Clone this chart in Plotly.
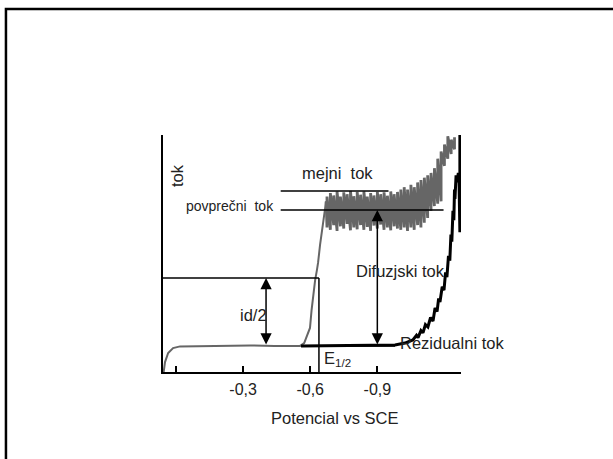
import plotly.graph_objects as go

# ---------------- data ----------------
# polarographic wave (foot + rise), potential in V vs SCE, current in arbitrary units
wave_potential = [0.055, 0.049, 0.035, 0.013, -0.018, -0.108, -0.220, -0.331, -0.440, -0.555,
                  -0.573, -0.586, -0.599, -0.606, -0.613, -0.622, -0.630, -0.635, -0.644,
                  -0.653, -0.662, -0.671]
wave_current = [0.0, 0.42, 0.80, 1.01, 1.08, 1.10, 1.10, 1.12, 1.10, 1.10,
                1.22, 1.52, 1.86, 2.60, 3.25, 3.88, 4.30, 4.60, 5.36,
                5.99, 6.75, 7.20]

# dropping-mercury oscillations on the limiting-current plateau
drop_potential = [-0.675, -0.690, -0.705, -0.720, -0.735, -0.750, -0.765, -0.780, -0.795, -0.810,
                  -0.825, -0.840, -0.855, -0.870, -0.885, -0.900, -0.915, -0.930, -0.945, -0.960,
                  -0.975, -0.990, -1.005, -1.020, -1.035, -1.050, -1.065, -1.080, -1.095, -1.110,
                  -1.125, -1.140, -1.155, -1.170, -1.185, -1.200, -1.215, -1.230, -1.245]
drop_max = [7.40, 7.55, 7.45, 7.62, 7.40, 7.58, 7.50, 7.64, 7.42, 7.60,
            7.48, 7.62, 7.40, 7.55, 7.45, 7.60, 7.50, 7.58, 7.44, 7.62,
            7.50, 7.60, 7.70, 7.80, 7.70, 7.90, 7.80, 8.00, 8.10, 8.20,
            8.30, 8.40, 8.60, 9.00, 9.30, 9.60, 9.95, 9.80, 9.90]
drop_min = [6.10, 6.00, 6.20, 5.95, 6.15, 6.05, 6.25, 5.98, 6.10, 6.02,
            6.20, 6.00, 6.12, 5.96, 6.18, 6.05, 6.22, 6.00, 6.10, 5.98,
            6.15, 6.05, 6.00, 6.10, 5.95, 6.10, 6.00, 6.20, 6.10, 6.30,
            6.50, 6.80, 7.00, 7.10, 7.20, 8.70, 9.00, 9.20, 9.40]

# residual current (supporting electrolyte only)
resid_potential = [-0.559, -0.733, -0.876, -0.979, -1.023, -1.059, -1.075, -1.082, -1.095, -1.104,
                   -1.115, -1.126, -1.138, -1.149, -1.158, -1.167, -1.174, -1.180, -1.190, -1.198,
                   -1.205, -1.211, -1.218, -1.224, -1.229, -1.233, -1.238, -1.242, -1.245, -1.247,
                   -1.252, -1.256, -1.262, -1.265, -1.269, -1.269]
resid_current = [1.10, 1.12, 1.16, 1.14, 1.22, 1.35, 1.55, 1.45, 1.75, 1.65,
                 2.00, 1.90, 2.30, 2.15, 2.70, 2.55, 3.10, 2.95, 3.60, 3.45,
                 4.20, 4.00, 4.90, 4.70, 5.80, 5.50, 6.80, 6.40, 7.70, 7.30,
                 8.30, 8.00, 8.40, 8.20, 5.90, 10.00]

# characteristic levels
residual_level = 1.10
mean_level = 6.84        # povprečni tok
limit_level = 7.64       # mejni tok
E_half = -0.639
half_level = (mean_level + residual_level) / 2

tick_vals = [0.0, -0.3, -0.6, -0.9]
tick_text = ["", "-0,3", "-0,6", "-0,9"]

# ---------------- figure ----------------
FONT = "Liberation Sans, Arial, sans-serif"
TXT = "#222222"
GRAY = "#666666"

# build the sawtooth from the listed drop extrema
saw_x, saw_y = [], []
for p, lo, hi in zip(drop_potential, drop_min, drop_max):
    saw_x += [p, p]
    saw_y += [lo, hi]

fig = go.Figure()
fig.add_trace(go.Scatter(x=wave_potential, y=wave_current, mode="lines",
                         line=dict(color=GRAY, width=2), hoverinfo="skip"))
fig.add_trace(go.Scatter(x=wave_potential[-1:] + saw_x, y=wave_current[-1:] + saw_y, mode="lines",
                         line=dict(color=GRAY, width=2.8), hoverinfo="skip"))
fig.add_trace(go.Scatter(x=resid_potential, y=resid_current, mode="lines",
                         line=dict(color="black", width=3), hoverinfo="skip"))

line_style = dict(color="black", width=1.5)
shapes = [
    # half-wave construction
    dict(type="line", xref="x", yref="y", x0=0.058, x1=E_half, y0=half_level, y1=half_level, line=line_style),
    dict(type="line", xref="x", yref="y", x0=E_half, x1=E_half, y0=0, y1=half_level, line=line_style),
    # limiting and mean current
    dict(type="line", xref="x", yref="y", x0=-0.468, x1=-0.950, y0=limit_level, y1=limit_level, line=line_style),
    dict(type="line", xref="x", yref="y", x0=-0.468, x1=-1.196, y0=mean_level, y1=mean_level, line=line_style),
    # residual baseline
    dict(type="line", xref="x", yref="y", x0=-0.559, x1=-0.979, y0=residual_level, y1=residual_level,
         line=dict(color="black", width=1.5)),
    # outer frame
    dict(type="rect", xref="paper", yref="paper", x0=-0.527, x1=1.7, y0=-0.6, y1=1.532,
         line=dict(color="black", width=2.5), layer="above"),
]

def double_arrow(x, y_top, y_bot):
    return [
        dict(x=x, y=y_top, ax=x, ay=y_bot, xref="x", yref="y", axref="x", ayref="y",
             showarrow=True, arrowhead=2, arrowsize=1.5, arrowwidth=1.5, arrowcolor="black",
             arrowside="end+start", text=""),
    ]

annotations = []
annotations += double_arrow(-0.4026, half_level, residual_level)
annotations += double_arrow(-0.900, mean_level, residual_level)

def label(text, x, y, size=16.5, xanchor="center", **kw):
    return dict(text=text, x=x, y=y, xref="x", yref="y", showarrow=False,
                xanchor=xanchor, yanchor="middle",
                font=dict(family=FONT, size=size, color=TXT), **kw)

annotations += [
    label("tok", -0.005, 8.27, textangle=-90),
    label("mejni  tok", -0.720, 8.40),
    label("povprečni  tok", -0.242, 7.0, size=14),
    label("id/2", -0.345, 2.40),
    label("Difuzjski tok", -1.005, 4.26),
    label("Rezidualni tok", -0.992, 1.22, xanchor="left"),
    label("E<sub>1/2</sub>", -0.652, 0.55, xanchor="left"),
    dict(text="Potencial vs SCE", x=0.574, y=-0.194, xref="paper", yref="paper", showarrow=False,
         xanchor="center", yanchor="middle", font=dict(family=FONT, size=16.5, color=TXT)),
]

fig.update_layout(
    width=613, height=459,
    margin=dict(l=163, r=152, t=135, b=87),
    paper_bgcolor="white", plot_bgcolor="white",
    showlegend=False,
    shapes=shapes,
    annotations=annotations,
    xaxis=dict(range=[0.058, -1.274], showgrid=False, zeroline=False,
               showline=True, linecolor="black", linewidth=2,
               ticks="inside", ticklen=6, tickwidth=1.5, tickcolor="black",
               tickvals=tick_vals, ticktext=tick_text, ticklabelstandoff=2,
               tickfont=dict(family=FONT, size=16, color=TXT)),
    yaxis=dict(range=[0, 10], showgrid=False, zeroline=False,
               showline=True, linecolor="black", linewidth=2,
               showticklabels=False, ticks=""),
)

fig.write_html("out.html", config={"displayModeBar": False},
               post_script="document.body.style.margin='0';document.body.style.overflow='hidden';")
